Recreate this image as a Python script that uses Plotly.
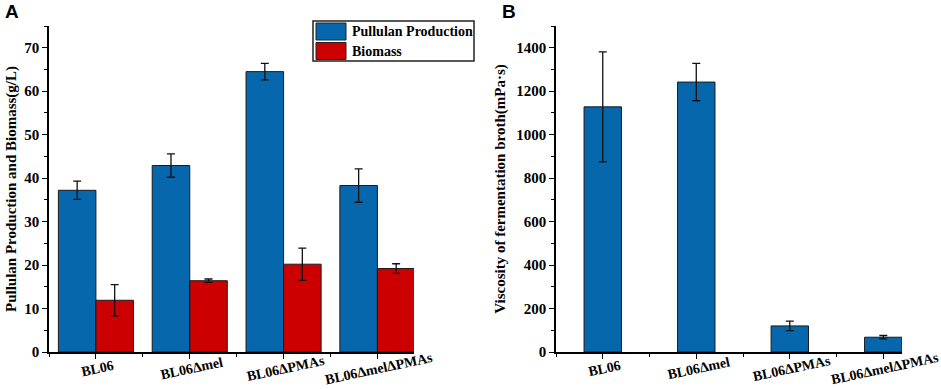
import plotly.graph_objects as go

strains = ["BL06", "BL06Δmel", "BL06ΔPMAs", "BL06ΔmelΔPMAs"]
pullulan = [37.2, 42.9, 64.5, 38.3]
pullulan_err = [2.1, 2.7, 1.9, 3.85]
biomass = [11.9, 16.4, 20.2, 19.2]
biomass_err = [3.6, 0.4, 3.7, 1.1]
viscosity = [1128, 1242, 120, 68]
viscosity_err = [253, 86, 22, 8]
series_names = ["Pullulan Production", "Biomass"]

xpos = list(range(len(strains)))

BLUE = "#0767AD"
RED = "#CC0000"
SERIF = "Liberation Serif, Times New Roman, serif"
W, H = 941, 389
MT, MB = 26, 37
PH = H - MT - MB


def py(pix):
    """convert a pixel row to paper y"""
    return (H - MB - pix) / PH


fig = go.Figure()
fig.add_trace(go.Bar(
    x=xpos, y=pullulan, name=series_names[0], width=0.4, offset=-0.4,
    marker=dict(color=BLUE, line=dict(color="#1a1a1a", width=1)),
    error_y=dict(type="data", array=pullulan_err, color="#111", thickness=1.3, width=4),
    xaxis="x", yaxis="y", showlegend=False))
fig.add_trace(go.Bar(
    x=xpos, y=biomass, name=series_names[1], width=0.4, offset=0,
    marker=dict(color=RED, line=dict(color="#1a1a1a", width=1)),
    error_y=dict(type="data", array=biomass_err, color="#111", thickness=1.3, width=4),
    xaxis="x", yaxis="y", showlegend=False))
fig.add_trace(go.Bar(
    x=xpos, y=viscosity, name="Viscosity", width=0.4, showlegend=False,
    marker=dict(color=BLUE, line=dict(color="#1a1a1a", width=1)),
    error_y=dict(type="data", array=viscosity_err, color="#111", thickness=1.3, width=4),
    xaxis="x2", yaxis="y2"))

tickfont = dict(family=SERIF, size=15, color="black", weight="bold")
axcommon = dict(showline=True, linecolor="black", linewidth=1.5, ticks="outside",
                tickcolor="black", tickwidth=1.3, showgrid=False, zeroline=False,
                automargin=False)

annotations = [
    dict(text="A", x=3 / W, y=py(11), xref="paper", yref="paper",
         xanchor="left", yanchor="middle", showarrow=False,
         font=dict(family="Liberation Sans, Arial, sans-serif", size=19, color="black", weight="bold")),
    dict(text="B", x=500 / W, y=py(11), xref="paper", yref="paper",
         xanchor="left", yanchor="middle", showarrow=False,
         font=dict(family="Liberation Sans, Arial, sans-serif", size=19, color="black", weight="bold")),
]
# rotated category labels, centred under each tick
for xr in ["x", "x2"]:
    for i, s in enumerate(strains):
        annotations.append(dict(
            text=s, x=xpos[i] + 0.02, y=py(368), xref=xr, yref="paper",
            xanchor="center", yanchor="middle", showarrow=False, textangle=-12,
            font=dict(family=SERIF, size=14, color="black", weight="bold")))

# legend box (drawn as shapes + text)
shapes = [
    dict(type="rect", xref="paper", yref="paper", x0=313 / W, x1=474 / W,
         y0=py(61), y1=py(21), line=dict(color="#222", width=1.5), fillcolor="white", layer="above"),
    dict(type="rect", xref="paper", yref="paper", x0=316 / W, x1=346 / W,
         y0=py(40), y1=py(23), line=dict(color="#222", width=1), fillcolor=BLUE, layer="above"),
    dict(type="rect", xref="paper", yref="paper", x0=316 / W, x1=346 / W,
         y0=py(59.5), y1=py(42.5), line=dict(color="#222", width=1), fillcolor=RED, layer="above"),
]
for name, rowy in zip(series_names, [31.5, 51]):
    annotations.append(dict(
        text=name, x=350 / W, y=py(rowy), xref="paper", yref="paper",
        xanchor="left", yanchor="middle", showarrow=False,
        font=dict(family=SERIF, size=14, color="black", weight="bold")))

fig.update_layout(
    width=W, height=H,
    margin=dict(l=0, r=0, t=MT, b=MB),
    paper_bgcolor="white", plot_bgcolor="white",
    barmode="overlay",
    font=dict(family=SERIF, color="black"),
    xaxis=dict(domain=[49 / W, 414 / W], range=[-0.5, 3.39],
               tickvals=xpos, showticklabels=False, ticklen=5,
               minor=dict(tickvals=[-0.5, 0.5, 1.5, 2.5], ticklen=3, tickcolor="black", ticks="outside"),
               **axcommon),
    yaxis=dict(domain=[0, 1], range=[0, 75], dtick=10, ticklen=5, tickfont=tickfont,
               minor=dict(dtick=5, ticklen=3, tickcolor="black", ticks="outside"),
               title=dict(text="Pullulan Production and Biomass(g/L)",
                          font=dict(family=SERIF, size=15, color="black", weight="bold"), standoff=4),
               **axcommon),
    xaxis2=dict(domain=[556 / W, 902 / W], range=[-0.5, 3.2], anchor="y2",
                tickvals=xpos, showticklabels=False, ticklen=5,
                minor=dict(tickvals=[-0.5, 0.5, 1.5, 2.5], ticklen=3, tickcolor="black", ticks="outside"),
                **axcommon),
    yaxis2=dict(domain=[0, 1], range=[0, 1500], dtick=200, ticklen=5, anchor="x2",
                tickfont=tickfont,
                minor=dict(dtick=100, ticklen=3, tickcolor="black", ticks="outside"),
                title=dict(text="Viscosity of fermentation broth(mPa·s)",
                           font=dict(family=SERIF, size=15, color="black", weight="bold"), standoff=7),
                **axcommon),
    annotations=annotations,
    shapes=shapes,
)

fig.write_html(
    "out.html",
    config={"displayModeBar": False},
    post_script="document.body.style.margin='0px';document.body.style.overflow='hidden';",
)
